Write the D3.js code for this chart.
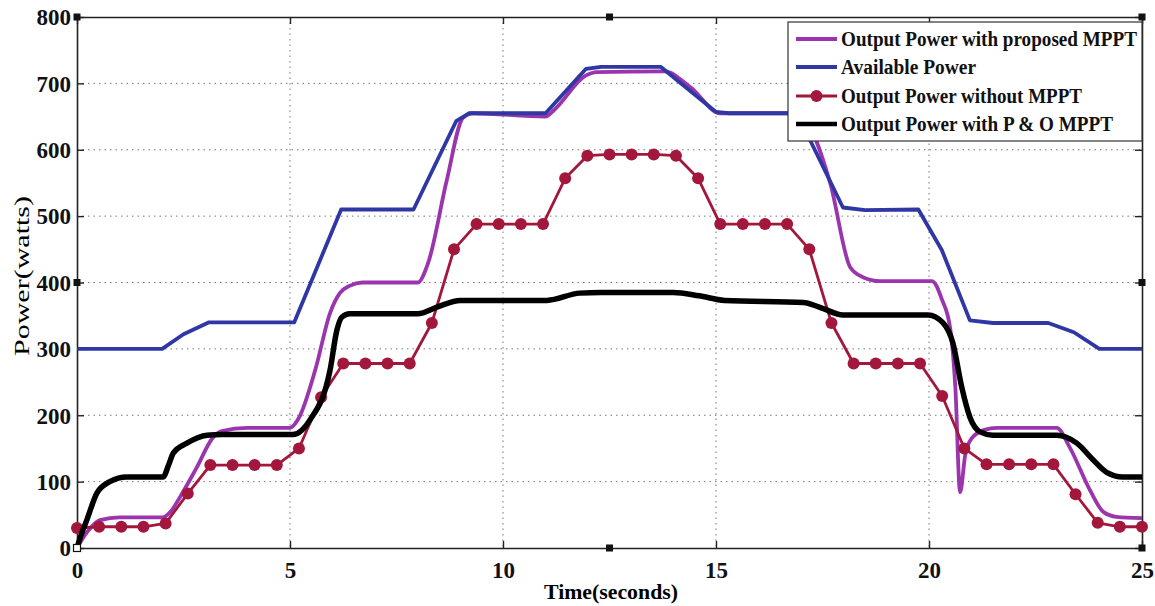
<!DOCTYPE html>
<html><head><meta charset="utf-8">
<script src="https://cdn.jsdelivr.net/npm/d3@7/dist/d3.min.js"></script>
<style>body{margin:0;background:#fff}svg{display:block}</style>
</head><body>
<svg id="c" width="1155" height="606"></svg>
<script>
// ---- data ----
const xTicks = [0,5,10,15,20,25];
const yTicks = [0,100,200,300,400,500,600,700,800];
const seriesNames = ["Output Power with proposed MPPT","Available Power","Output Power without MPPT","Output Power with P & O MPPT"];

const blueT = [0,2.0,2.5,3.1,5.1,6.2,7.9,8.9,9.2,11.0,11.95,12.3,13.7,15.0,15.3,16.9,17.98,18.5,19.75,20.3,20.96,21.5,22.8,23.4,24.0,25];
const blueP = [300,300,322,340,340,510,510,643,655,655,722,725,725,657,655,655,513,509,510,449,343,339,339,325,300,300];

const purpleT = [0,0.25,0.54,1.0,2.0,2.2,2.42,2.8,3.2,3.4,4.0,5.0,5.2,5.6,5.94,6.17,6.4,6.7,8.0,8.24,8.68,9.06,9.3,11.0,11.2,11.95,12.2,13.8,14.4,15.1,16.9,17.68,18.15,18.45,18.85,20.07,20.3,20.5,20.62,20.73,20.85,21.0,21.3,21.6,23.0,23.3,23.78,24.1,24.4,25];
const purpleP = [0,25,42,46,46,55,77,120,167,176,181,181,195,270,354,384,395,400,400,429,554,648,655,650,660,712,717,718,694,655,655,550,423,408,402,402,375,330,240,84,140,165,178,181,181,152,87,54,47,45];

const redT = [0,0.52,1.04,1.56,2.08,2.60,3.13,3.65,4.17,4.69,5.21,5.73,6.25,6.77,7.29,7.81,8.33,8.85,9.38,9.90,10.42,10.94,11.46,11.98,12.50,13.02,13.54,14.06,14.58,15.10,15.63,16.15,16.67,17.19,17.71,18.23,18.75,19.27,19.79,20.31,20.83,21.35,21.88,22.40,22.92,23.44,23.96,24.48,25.00];
const redP = [30,32,32,32,37,82,125,125,125,125,150,227,278,278,278,278,339,450,488,488,488,488,557,591,593,593,593,591,557,488,488,488,488,450,339,278,278,278,278,229,150,126,126,126,126,81,38,32,32];

const blackT = [0,0.1,0.23,0.47,0.77,1.17,2.02,2.15,2.26,2.58,3.05,3.4,5.07,5.47,5.94,6.1,6.22,6.4,8.0,8.45,9.0,11.03,11.8,12.3,14.0,14.6,15.2,17.05,17.5,17.98,19.98,20.33,20.56,20.77,20.96,21.2,21.5,23.0,23.47,23.85,24.17,24.55,25];
const blackP = [0,20,42,83,100,107,107,125,143,158,170,171,171,193,268,328,348,353,353,363,373,373,384,385,385,380,373,370,361,351,351,339,309,242,197,175,170,170,158,133,114,107,107];

// ---- layout ----
const L=77,R=1142,T=17,B=548;
const svg=d3.select("#c");
const x=d3.scaleLinear().domain([0,25]).range([L,R]);
const y=d3.scaleLinear().domain([0,800]).range([B,T]);
const font="'Liberation Serif','Times New Roman',serif";

// grid
const g=svg.append("g");
g.selectAll(".gx").data(xTicks.slice(1,-1)).join("line")
 .attr("x1",d=>x(d)).attr("x2",d=>x(d)).attr("y1",T).attr("y2",B)
 .attr("stroke","#777").attr("stroke-width",1).attr("stroke-dasharray","1.5,4");
g.selectAll(".gy").data(yTicks.slice(1,-1)).join("line")
 .attr("y1",d=>y(d)).attr("y2",d=>y(d)).attr("x1",L).attr("x2",R)
 .attr("stroke","#777").attr("stroke-width",1).attr("stroke-dasharray","1.5,4");

// axes
const axB=svg.append("g").attr("transform",`translate(0,${B})`)
 .call(d3.axisBottom(x).tickValues(xTicks).tickSizeInner(-7).tickSizeOuter(0).tickPadding(14).tickFormat(d3.format("d")));
const axT=svg.append("g").attr("transform",`translate(0,${T})`)
 .call(d3.axisTop(x).tickValues(xTicks).tickSizeInner(-7).tickSizeOuter(0).tickFormat(""));
const axLft=svg.append("g").attr("transform",`translate(${L},0)`)
 .call(d3.axisLeft(y).tickValues(yTicks).tickSizeInner(-7).tickSizeOuter(0).tickPadding(6).tickFormat(d3.format("d")));
const axRt=svg.append("g").attr("transform",`translate(${R},0)`)
 .call(d3.axisRight(y).tickValues(yTicks).tickSizeInner(-7).tickSizeOuter(0).tickFormat(""));
[axB,axT,axLft,axRt].forEach(a=>{
  a.select(".domain").attr("stroke","#222").attr("stroke-width",1.6);
  a.selectAll(".tick line").attr("stroke","#222").attr("stroke-width",1.4);
  a.selectAll("text").attr("font-family",font).attr("font-weight","bold").attr("font-size",23).attr("fill","#111");
});
axLft.selectAll("text").attr("dy","0.34em");

// lines
const lin=d3.line().x(d=>x(d[0])).y(d=>y(d[1]));
const smooth=d3.line().x(d=>x(d[0])).y(d=>y(d[1])).curve(d3.curveMonotoneX);
const zip=(a,b)=>a.map((v,i)=>[v,b[i]]);
const purple="#9a35ae", blue="#2f37a5", red="#a3173c", black="#000";
const plot=svg.append("g");
plot.append("path").datum(zip(purpleT,purpleP)).attr("d",smooth).attr("fill","none").attr("stroke",purple).attr("stroke-width",3.8).attr("stroke-linejoin","round");
plot.append("path").datum(zip(blueT,blueP)).attr("d",lin).attr("fill","none").attr("stroke",blue).attr("stroke-width",3.8).attr("stroke-linejoin","round");
plot.append("path").datum(zip(redT,redP)).attr("d",lin).attr("fill","none").attr("stroke",red).attr("stroke-width",2.8).attr("stroke-linejoin","round");
plot.selectAll(".m").data(zip(redT,redP)).join("circle").attr("cx",d=>x(d[0])).attr("cy",d=>y(d[1])).attr("r",6).attr("fill",red);
plot.append("path").datum(zip(blackT,blackP)).attr("d",smooth).attr("fill","none").attr("stroke",black).attr("stroke-width",5.5).attr("stroke-linejoin","round");

// axis labels
svg.append("text").attr("x",611).attr("y",599).attr("text-anchor","middle").attr("font-family",font).attr("font-weight","bold").attr("font-size",22).attr("textLength",134).attr("lengthAdjust","spacingAndGlyphs").text("Time(seconds)");
svg.append("text").attr("transform","translate(29,276) rotate(-90)").attr("text-anchor","middle").attr("font-family",font).attr("font-size",22).attr("textLength",160).attr("lengthAdjust","spacingAndGlyphs").text("Power(watts)");

// legend
const lg=svg.append("g");
lg.append("rect").attr("x",788).attr("y",22).attr("width",R-788).attr("height",119).attr("fill","#fff").attr("stroke","#333").attr("stroke-width",1.2);
const rowY=[39,67,96,124];
const cols=[purple,blue,red,black], widths=[3.8,3.8,2.8,4.6], tl=[296,135,241,272];
seriesNames.forEach((n,i)=>{
  lg.append("line").attr("x1",796).attr("x2",837).attr("y1",rowY[i]).attr("y2",rowY[i]).attr("stroke",cols[i]).attr("stroke-width",widths[i]);
  if(i===2) lg.append("circle").attr("cx",816.5).attr("cy",rowY[i]).attr("r",6).attr("fill",red);
  lg.append("text").attr("x",841).attr("y",rowY[i]).attr("dy","0.34em").attr("font-family",font).attr("font-weight","bold").attr("font-size",20).attr("fill","#111")
   .attr("textLength",tl[i]).attr("lengthAdjust","spacingAndGlyphs").text(n);
});

// selection handles (as in the reference)
const hs=[[L,T],[x(12.5),T],[R,T],[R,y(400)],[R,B],[x(12.5),B],[L,y(400)]];
svg.selectAll(".h").data(hs).join("rect").attr("x",d=>d[0]-3.5).attr("y",d=>d[1]-3.5).attr("width",7).attr("height",7).attr("fill","#111");
svg.append("rect").attr("x",L-3.5).attr("y",B-3.5).attr("width",7).attr("height",7).attr("fill","#fff").attr("stroke","#111").attr("stroke-width",1.2);
</script>
</body></html>
